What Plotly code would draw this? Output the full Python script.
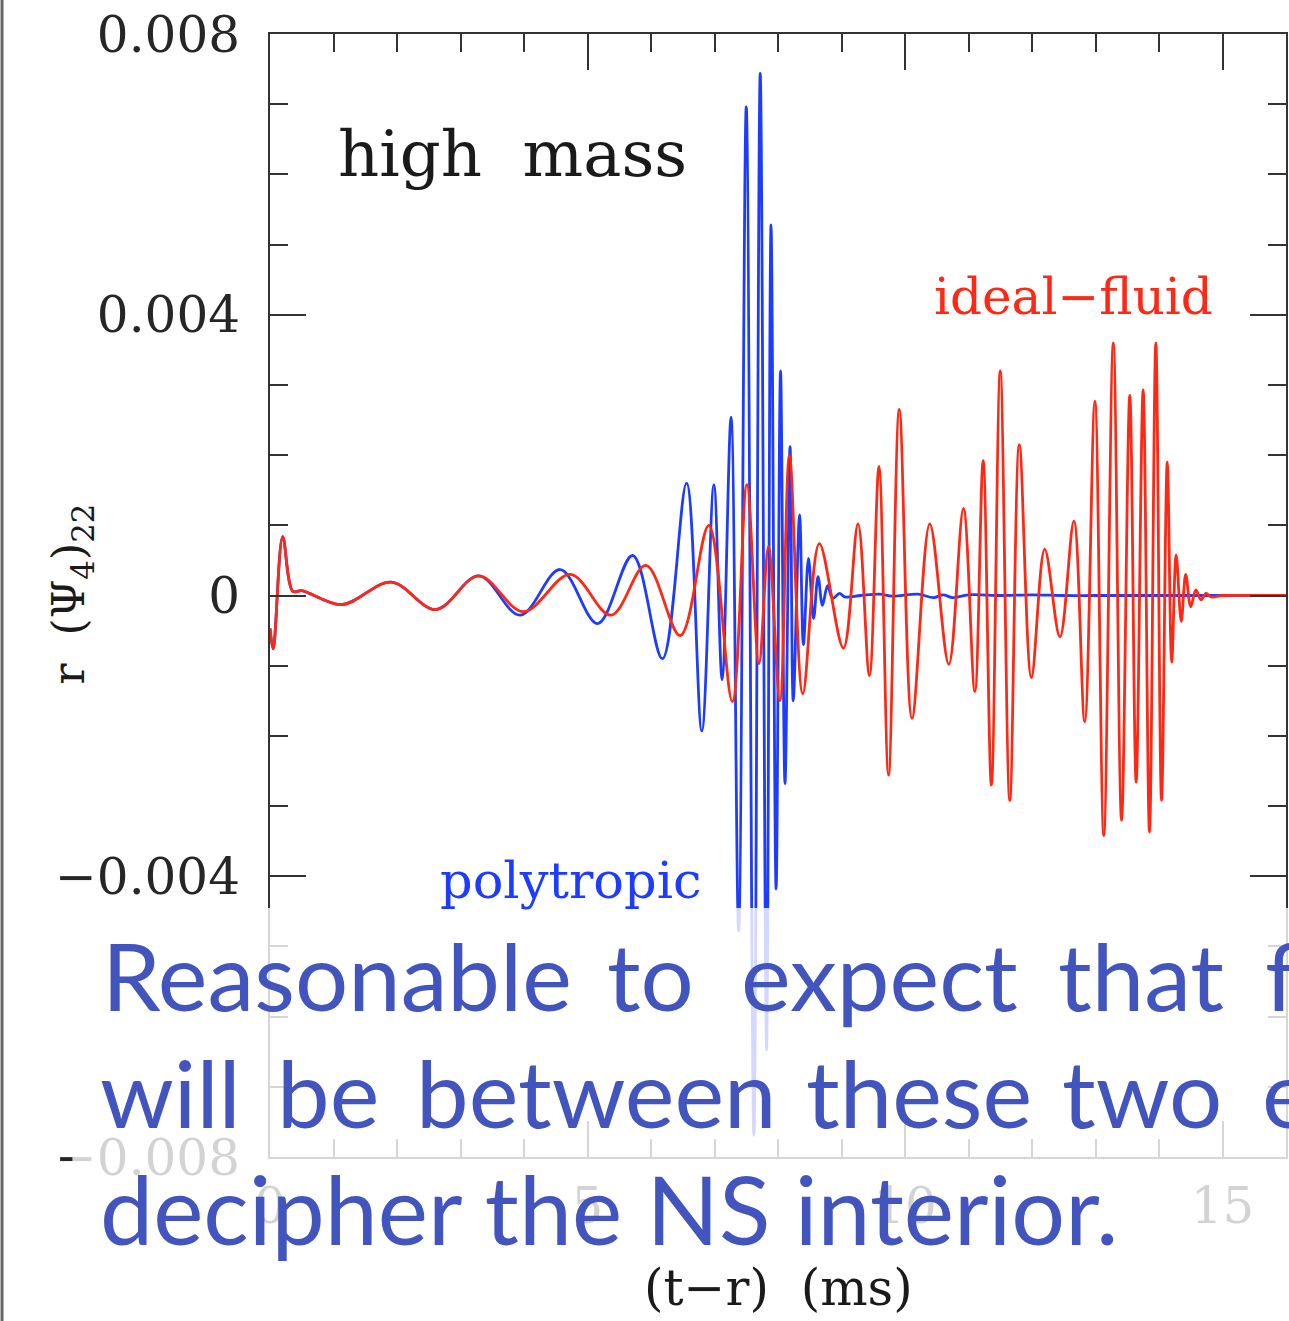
import plotly.graph_objects as go

# ---------------- data ----------------
# polytropic (blue) waveform: time (ms), r(Psi4)_22
blue_t = [0.00, 0.05, 0.20, 0.36, 0.50, 1.13, 1.91, 2.61, 3.29, 3.94, 4.57, 5.16, 5.71,
          6.18, 6.56, 6.80, 6.99, 7.12, 7.26, 7.38, 7.50, 7.62, 7.72, 7.82, 7.89, 7.97,
          8.04, 8.11, 8.19, 8.24, 8.34, 8.40, 8.48, 8.56, 8.63, 8.70, 8.78, 8.86, 8.97,
          9.05, 9.30, 9.60, 9.80, 10.20, 10.45, 10.60, 10.75, 11.00, 11.50, 12.00, 12.50,
          13.00, 14.00, 15.00, 16.00]
blue_v = [-0.00047, -0.00076, 0.00084, 0.00006, 0.00007, -0.00013, 0.00019, -0.00020,
          0.00028, -0.00028, 0.00037, -0.00040, 0.00057,
          -0.00090, 0.00160, -0.00193, 0.00158, -0.00120, 0.00254, -0.00478, 0.00696,
          -0.00769, 0.00744, -0.00647, 0.00528, -0.00418,
          0.00320, -0.00268, 0.00212, -0.00150, 0.00115, -0.00070, 0.00053, -0.00033,
          0.00027, -0.00014, 0.00014, -0.00004, 0.00003,
          -0.00002, 0.00000, 0.00002, -0.00001, 0.00002, -0.00003, 0.00001, -0.00003,
          0.00001, 0.00000, 0.00001, 0.00000,
          0.00000, 0.00000, 0.00000, 0.00000]

# ideal-fluid (red) waveform
red_t = [0.00, 0.05, 0.20, 0.36, 0.50, 1.13, 1.91, 2.61, 3.29, 3.99, 4.73, 5.37, 5.92,
         6.46, 6.91, 7.28, 7.51, 7.70, 7.85, 8.03, 8.18, 8.39, 8.65, 9.03, 9.26, 9.44,
         9.59, 9.74, 9.91, 10.11, 10.39, 10.69, 10.92, 11.10, 11.23, 11.36, 11.50, 11.65,
         11.80, 11.99, 12.20, 12.44, 12.66, 12.83, 12.99, 13.13, 13.28, 13.41, 13.54,
         13.64, 13.75, 13.85, 13.95, 14.04, 14.13, 14.20, 14.27, 14.35, 14.42, 14.50,
         14.58, 14.66, 14.74, 14.82, 15.00, 15.50, 16.00]
red_v = [-0.00047, -0.00076, 0.00084, 0.00006, 0.00007, -0.00013, 0.00019, -0.00020,
         0.00028, -0.00023, 0.00030, -0.00028, 0.00043,
         -0.00057, 0.00100, -0.00151, 0.00158, -0.00097, 0.00070, -0.00150, 0.00200,
         -0.00140, 0.00074, -0.00075, 0.00102, -0.00114,
         0.00184, -0.00256, 0.00265, -0.00175, 0.00102, -0.00098, 0.00124, -0.00137,
         0.00192, -0.00270, 0.00320, -0.00292,
         0.00215, -0.00117, 0.00066, -0.00059, 0.00106, -0.00180, 0.00277, -0.00342,
         0.00360, -0.00320, 0.00285,
         -0.00266, 0.00293, -0.00337, 0.00360, -0.00292, 0.00190, -0.00095, 0.00058,
         -0.00037, 0.00030, -0.00016,
         0.00008, -0.00006, 0.00003, -0.00002, 0.00000, 0.00000, 0.00000]

X_RANGE = [0, 16]
Y_RANGE = [-0.008, 0.008]

overlay_line1 = ["Reasonable", "to", "expect", "that", "f"]
overlay_line2 = ["will", "be", "between", "these", "two", "e"]
overlay_line3 = "decipher the NS interior."

# ---------------- layout helpers (pixels -> paper) ----------------
W, H = 1289, 1321
ML, MR, MT, MB = 270, 1, 34, 164
PW = W - ML - MR
PH = H - MT - MB


def pxx(x):
    return (x - ML) / PW


def pxy(y):
    return (H - MB - y) / PH


SERIF = "DejaVu Serif"
BLUE = "#1e3cff"
RED = "#ff2814"
TXT = "#4254be"
AX = "#333333"

fig = go.Figure()
fig.add_trace(go.Scatter(x=blue_t, y=blue_v, mode="lines", name="polytropic",
                         line=dict(color=BLUE, width=2.8, shape="spline", smoothing=1.0)))
fig.add_trace(go.Scatter(x=red_t, y=red_v, mode="lines", name="ideal-fluid",
                         line=dict(color=RED, width=2.8, shape="spline", smoothing=1.0)))

axis_common = dict(
    showline=True, linecolor=AX, linewidth=2, mirror="allticks",
    ticks="inside", ticklen=36, tickwidth=2, tickcolor=AX,
    showgrid=False, zeroline=False,
    tickfont=dict(family=SERIF, size=50, color="#262626"),
)
fig.update_xaxes(range=X_RANGE, tick0=0, dtick=5,
                 minor=dict(ticks="inside", ticklen=18, tickwidth=2, tickcolor=AX, dtick=1),
                 ticklabelstandoff=4, **axis_common)
fig.update_yaxes(range=Y_RANGE, tick0=0, dtick=0.004,
                 minor=dict(ticks="inside", ticklen=18, tickwidth=2, tickcolor=AX, dtick=0.001),
                 ticklabelstandoff=18, **axis_common)

ann = []


def text_at(x, baseline, s, size, color, family=SERIF, desc=0.24, anchor="left"):
    ann.append(dict(x=pxx(x), y=pxy(baseline + desc * size), xref="paper", yref="paper",
                    text=s, showarrow=False, xanchor=anchor, yanchor="bottom",
                    font=dict(family=family, size=size, color=color)))


text_at(336, 178, "high  mass", 64, "#1a1a1a")
text_at(933, 316, "ideal\u2212fluid", 50, RED)
text_at(438, 900, "polytropic", 51, BLUE)
text_at(780, 1307, "(t\u2212r)  (ms)", 50, "#1a1a1a", anchor="center")

# y-axis title (rotated)
ann.append(dict(x=pxx(71), y=pxy(594), xref="paper", yref="paper",
                text="r  (\u03a8<sub>4</sub>)<sub>22</sub>", showarrow=False, textangle=-90,
                xanchor="center", yanchor="middle",
                font=dict(family=SERIF, size=44, color="#1a1a1a")))

# overlay text words
line1_x = [100, 606, 740, 1058, 1265]
line2_x = [98, 275, 414, 805, 1062, 1262]
for w, x in zip(overlay_line1, line1_x):
    text_at(x, 1012, w, 94, TXT, family="Lato", desc=0.22)
for w, x in zip(overlay_line2, line2_x):
    text_at(x, 1129, w, 94, TXT, family="Lato", desc=0.22)
text_at(98, 1246, overlay_line3, 95, TXT, family="Lato", desc=0.22)

shapes = [
    dict(type="rect", xref="paper", yref="paper", x0=pxx(72), x1=pxx(1300),
         y0=pxy(908), y1=pxy(1252), fillcolor="rgba(255,255,255,0.8)",
         line=dict(width=0), layer="above"),
    dict(type="line", xref="paper", yref="paper", x0=pxx(1.5), x1=pxx(1.5),
         y0=pxy(0), y1=pxy(H), line=dict(color="#666666", width=3), layer="above"),
]

fig.update_layout(width=W, height=H, margin=dict(l=ML, r=MR, t=MT, b=MB),
                  plot_bgcolor="white", paper_bgcolor="white", showlegend=False,
                  annotations=ann, shapes=shapes)

fig.write_html("out.html")
